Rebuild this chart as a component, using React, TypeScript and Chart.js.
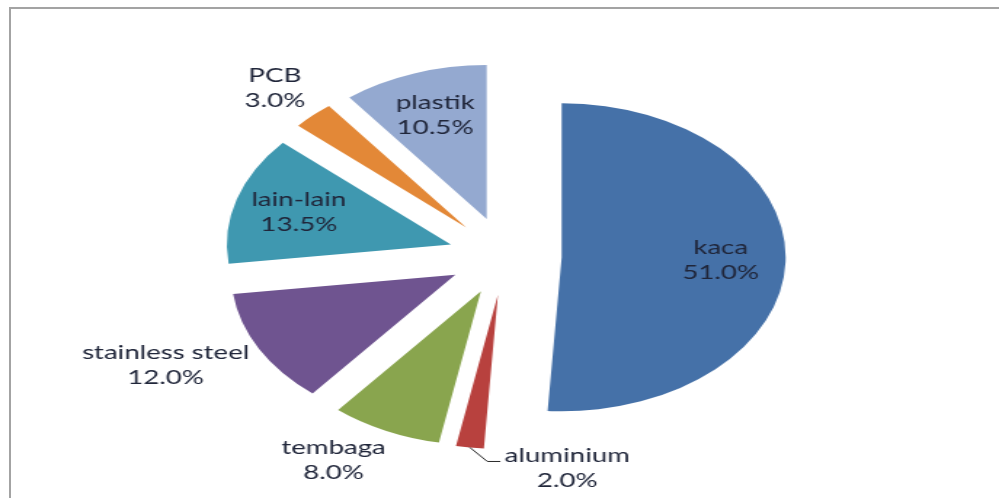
import React, { useEffect, useRef } from "react";
import { Chart, registerables } from "chart.js";

Chart.register(...registerables);

// ---- data ----
const categories = ["kaca", "aluminium", "tembaga", "stainless steel", "lain-lain", "PCB", "plastik"];
const shares = [51.0, 2.0, 8.0, 12.0, 13.5, 3.0, 10.5];
const sliceColors = ["#4571A8", "#B8413E", "#89A54E", "#6F5490", "#3F98B0", "#E38837", "#94A9D0"];
const labelModes = ["inside", "callout", "outside", "outside", "inside", "outside", "inside"];

// ---- layout / style ----
const CANVAS_W = 687;
const CANVAS_H = 498;
const VIEW_W = 999;
const SX = VIEW_W / CANVAS_W; // the original picture is stretched horizontally
const EXPLODE = 39;
const PIE_RADIUS = 154;
const FONT = '19px Lato, "DejaVu Sans", sans-serif';
const TEXT_COLOR = "#20263a";
const LINE_H = 25;
const CENTER_X = 505 / SX;

const explodePlugin = {
  id: "explodeAll",
  afterDatasetsUpdate(chart: any) {
    const meta = chart.getDatasetMeta(0);
    meta.data.forEach((arc: any) => {
      const a = (arc.startAngle + arc.endAngle) / 2;
      arc.x += Math.cos(a) * EXPLODE;
      arc.y += Math.sin(a) * EXPLODE;
    });
  },
};

const labelPlugin = {
  id: "sliceLabels",
  afterDatasetsDraw(chart: any) {
    const ctx = chart.ctx as CanvasRenderingContext2D;
    const meta = chart.getDatasetMeta(0);
    ctx.save();
    ctx.font = FONT;
    ctx.fillStyle = TEXT_COLOR;
    ctx.textBaseline = "middle";
    const g = (t: number) => Math.max(-1, Math.min(1, 1.6 * t));
    meta.data.forEach((arc: any, i: number) => {
      const a = (arc.startAngle + arc.endAngle) / 2;
      const dx = Math.cos(a);
      const dy = Math.sin(a);
      const R = arc.outerRadius;
      const lines = [categories[i], shares[i].toFixed(1) + "%"];
      const mode = labelModes[i];
      if (mode === "inside") {
        const cx = arc.x + dx * R * 0.71;
        const cy = arc.y + dy * R * 0.71;
        ctx.textAlign = "center";
        ctx.fillText(lines[0], cx, cy - LINE_H / 2);
        ctx.fillText(lines[1], cx, cy + LINE_H / 2);
      } else if (mode === "outside") {
        const px = arc.x + dx * R * 1.05;
        const py = arc.y + dy * R * 1.05;
        const w = Math.max(ctx.measureText(lines[0]).width, ctx.measureText(lines[1]).width);
        const h = LINE_H + 20;
        const sdx = dx * SX;
        const n = Math.hypot(sdx, dy);
        const cx = px + (g(sdx / n) * w) / 2;
        const cy = py + (g(dy / n) * h) / 2;
        ctx.textAlign = "center";
        ctx.fillText(lines[0], cx, cy - LINE_H / 2);
        ctx.fillText(lines[1], cx, cy + LINE_H / 2);
      } else {
        const px = arc.x + dx * R;
        const py = arc.y + dy * R;
        const ex = px + 12;
        const ey = py + 14;
        const hx = ex + 9;
        ctx.strokeStyle = "#2a2a2a";
        ctx.lineWidth = 1;
        ctx.beginPath();
        ctx.moveTo(px, py);
        ctx.lineTo(ex, ey);
        ctx.lineTo(hx, ey);
        ctx.stroke();
        const tx = hx + 3;
        const w0 = ctx.measureText(lines[0]).width;
        ctx.textAlign = "left";
        ctx.fillText(lines[0], tx, ey - 6);
        ctx.textAlign = "center";
        ctx.fillText(lines[1], tx + w0 / 2, ey - 6 + LINE_H);
      }
    });
    ctx.restore();
  },
};

export default function App() {
  const canvasRef = useRef<HTMLCanvasElement | null>(null);

  useEffect(() => {
    if (!canvasRef.current) return;
    const padLeft = 50;
    const padRight = CANVAS_W - 2 * CENTER_X + padLeft;
    const chart = new Chart(canvasRef.current, {
      type: "pie",
      data: {
        labels: categories,
        datasets: [
          {
            data: shares,
            backgroundColor: sliceColors,
            borderWidth: 0,
          },
        ],
      },
      options: {
        responsive: false,
        animation: false,
        events: [],
        radius: PIE_RADIUS,
        layout: { padding: { left: padLeft, right: padRight, top: 50, bottom: 36 } },
        plugins: {
          legend: { display: false },
          tooltip: { enabled: false },
        },
      } as any,
      plugins: [explodePlugin, labelPlugin],
    });
    return () => chart.destroy();
  }, []);

  return (
    <div
      style={{
        position: "fixed",
        left: 0,
        top: 0,
        width: VIEW_W,
        height: CANVAS_H,
        overflow: "hidden",
        background: "#ffffff",
      }}
    >
      <div
        style={{
          position: "absolute",
          left: 0,
          top: 0,
          width: CANVAS_W,
          height: CANVAS_H,
          transform: `scaleX(${SX})`,
          transformOrigin: "0 0",
        }}
      >
        <canvas ref={canvasRef} width={CANVAS_W} height={CANVAS_H} style={{ display: "block" }} />
      </div>
      <div
        style={{
          position: "absolute",
          left: 9,
          top: 7,
          width: 2000,
          height: 2000,
          borderLeft: "2px solid #a3a3a3",
          borderTop: "2px solid #a3a3a3",
          pointerEvents: "none",
        }}
      />
    </div>
  );
}
